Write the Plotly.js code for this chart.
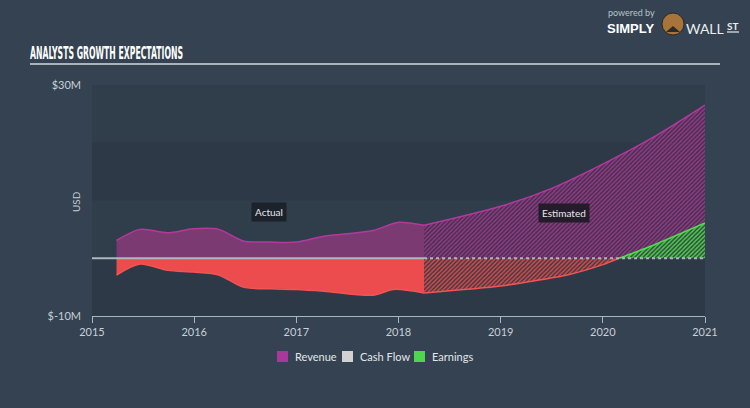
<!DOCTYPE html>
<html>
<head>
<meta charset="utf-8">
<script src="https://cdn.plot.ly/plotly-3.0.1.min.js"></script>
<style>
  html, body { margin: 0; padding: 0; background: #344251; }
  #chart { width: 750px; height: 408px; }
</style>
</head>
<body>
<div id="chart"></div>
<script>
// ---- Data (values in $M) ----
const revenueActualX = [2015.24, 2015.47, 2015.74, 2015.99, 2016.24, 2016.48, 2016.75, 2017.0, 2017.27, 2017.75, 2017.99, 2018.25];
const revenueActual  = [3.1, 5.0, 4.4, 5.1, 5.0, 3.0, 2.8, 2.8, 3.8, 4.8, 6.2, 5.7];
const revenueEstX    = [2018.25, 2019.0, 2019.5, 2020.0, 2020.5, 2021.0];
const revenueEst     = [5.7, 9.0, 12.1, 16.3, 21.0, 26.5];

const earningsActualX = [2015.24, 2015.47, 2015.74, 2015.99, 2016.24, 2016.48, 2016.75, 2017.0, 2017.27, 2017.75, 2017.95, 2018.25];
const earningsActual  = [-2.9, -1.0, -2.1, -2.4, -2.9, -5.0, -5.3, -5.4, -5.7, -6.4, -5.4, -6.0];
const earningsEstX    = [2018.25, 2019.0, 2019.65, 2020.0, 2020.16, 2020.5, 2021.0];
const earningsEst     = [-6.0, -4.8, -2.9, -1.1, 0.0, 2.3, 6.1];

const cashFlowActualX = [2015.0, 2016.0, 2017.0, 2018.0, 2018.25];
const cashFlowActual  = [0, 0, 0, 0, 0];
const cashFlowEstX    = [2018.25, 2019.0, 2020.0, 2021.0];
const cashFlowEst     = [0, 0, 0, 0];

const yearTicks  = [2015, 2016, 2017, 2018, 2019, 2020, 2021];
const yearLabels = ["2015", "2016", "2017", "2018", "2019", "2020", "2021"];
const yTickVals  = [-10, 30];
const yTickText  = ["$-10M", "$30M"];
const bandRanges = [[-10, 0], [10, 20]];

const legendNames  = ["Revenue", "Cash Flow", "Earnings"];
const legendColors = ["#a8389a", "#d2d2d2", "#4fd64f"];

// ---- Layout geometry helpers (pixel -> paper) ----
const L = 92, R = 705, T = 85, B = 316;
const W = R - L, H = B - T;
const px = x => (x - L) / W;
const py = y => (B - y) / H;

// split estimated earnings into negative and positive parts
const negX = [], negY = [], posX = [], posY = [];
earningsEstX.forEach((x, i) => {
  const v = earningsEst[i];
  if (v <= 0) { negX.push(x); negY.push(v); }
  if (v >= 0) { posX.push(x); posY.push(v); }
});

const traces = [
  { x: revenueActualX, y: revenueActual, type: 'scatter', mode: 'lines',
    line: { color: '#b3399f', width: 1.5, shape: 'spline', smoothing: 0.8 },
    fill: 'tozeroy', fillcolor: '#7b3a72', showlegend: false, hoverinfo: 'skip' },
  { x: revenueEstX, y: revenueEst, type: 'scatter', mode: 'lines',
    line: { color: '#b3399f', width: 1.5, shape: 'spline', smoothing: 0.8 },
    fill: 'tozeroy',
    fillpattern: { shape: '/', fgcolor: '#97398a', bgcolor: '#3f3149', size: 3, solidity: 0.5 },
    showlegend: false, hoverinfo: 'skip' },
  { x: earningsActualX, y: earningsActual, type: 'scatter', mode: 'lines',
    line: { color: '#f05454', width: 1.5, shape: 'spline', smoothing: 0.8 },
    fill: 'tozeroy', fillcolor: '#ec4c4d', showlegend: false, hoverinfo: 'skip' },
  { x: negX, y: negY, type: 'scatter', mode: 'lines',
    line: { color: '#f05454', width: 1.5, shape: 'spline', smoothing: 0.6 },
    fill: 'tozeroy',
    fillpattern: { shape: '/', fgcolor: '#d84a4b', bgcolor: '#3a3a45', size: 3, solidity: 0.5 },
    showlegend: false, hoverinfo: 'skip' },
  { x: posX, y: posY, type: 'scatter', mode: 'lines',
    line: { color: '#4fe04f', width: 1.5, shape: 'spline', smoothing: 0.6 },
    fill: 'tozeroy',
    fillpattern: { shape: '/', fgcolor: '#4fd04f', bgcolor: '#31473d', size: 3, solidity: 0.5 },
    showlegend: false, hoverinfo: 'skip' },
  { x: cashFlowActualX, y: cashFlowActual, type: 'scatter', mode: 'lines',
    line: { color: '#aeb7c0', width: 1.8 }, showlegend: false, hoverinfo: 'skip' },
  { x: cashFlowEstX, y: cashFlowEst, type: 'scatter', mode: 'lines',
    line: { color: '#aeb7c0', width: 1.8, dash: 'dot' }, showlegend: false, hoverinfo: 'skip' }
];

const shapes = [];
bandRanges.forEach(b => shapes.push({
  type: 'rect', xref: 'paper', yref: 'y', x0: 0, x1: 1, y0: b[0], y1: b[1],
  fillcolor: '#2d3946', line: { width: 0 }, layer: 'below'
}));
// title underline
shapes.push({ type: 'line', xref: 'paper', yref: 'paper', x0: px(30), x1: px(720), y0: py(64), y1: py(64),
  line: { color: '#a9b3bd', width: 2 } });
// logo emblem
shapes.push({ type: 'circle', xref: 'paper', yref: 'paper', x0: px(662), x1: px(684), y0: py(35), y1: py(13),
  fillcolor: '#a8743a', line: { color: '#2a2a2a', width: 1 } });
shapes.push({ type: 'path', xref: 'paper', yref: 'paper',
  path: `M ${px(666)} ${py(32)} L ${px(673)} ${py(26)} L ${px(680)} ${py(32)} Z`,
  fillcolor: '#2b2b2b', line: { width: 0 } });
shapes.push({ type: 'line', xref: 'paper', yref: 'paper', x0: px(727), x1: px(739), y0: py(32), y1: py(32),
  line: { color: '#e8ecef', width: 1.2 } });

const annotations = [
  { xref: 'x', yref: 'y', x: 2016.73, y: 8.0, text: 'Actual', showarrow: false,
    font: { family: 'Lato, sans-serif', size: 10, color: '#e6e9ec' }, bgcolor: '#1b222b', borderpad: 3 },
  { xref: 'x', yref: 'y', x: 2019.62, y: 7.8, text: 'Estimated', showarrow: false,
    font: { family: 'Lato, sans-serif', size: 10, color: '#e6e9ec' }, bgcolor: '#251c2b', borderpad: 3 },
  { xref: 'paper', yref: 'paper', x: px(68), y: py(202), yanchor: 'middle', text: 'USD', textangle: -90, showarrow: false,
    font: { family: 'Lato, sans-serif', size: 10, color: '#c5cdd5' } },
  { xref: 'paper', yref: 'paper', x: px(607), y: py(13), xanchor: 'left', yanchor: 'middle', text: 'powered by', showarrow: false,
    borderpad: 0, font: { family: 'Lato, sans-serif', size: 9, color: '#b8c2cc' } },
  { xref: 'paper', yref: 'paper', x: px(606), y: py(28), xanchor: 'left', yanchor: 'middle', text: '<b>SIMPLY</b>', showarrow: false,
    borderpad: 0, font: { family: 'Liberation Sans, sans-serif', size: 13, color: '#ffffff' } },
  { xref: 'paper', yref: 'paper', x: px(685), y: py(28), xanchor: 'left', yanchor: 'middle', text: 'WALL', showarrow: false,
    borderpad: 0, font: { family: 'Lato, sans-serif', size: 14, color: '#e8ecef' } },
  { xref: 'paper', yref: 'paper', x: px(726), y: py(26), xanchor: 'left', yanchor: 'middle', text: '<b>ST</b>', showarrow: false,
    borderpad: 0, font: { family: 'Lato, sans-serif', size: 10, color: '#e8ecef' } }
];

// custom legend
const legendPos = [[277, 293], [342, 358], [414, 430]];
legendNames.forEach((name, i) => {
  const [sx, tx] = legendPos[i];
  shapes.push({ type: 'rect', xref: 'paper', yref: 'paper', x0: px(sx), x1: px(sx + 11),
    y0: py(362), y1: py(351), fillcolor: legendColors[i], line: { width: 0 } });
  annotations.push({ xref: 'paper', yref: 'paper', x: px(tx), y: py(356.5), xanchor: 'left', yanchor: 'middle',
    text: name, showarrow: false, font: { family: 'Lato, sans-serif', size: 11, color: '#e2e6ea' } });
});

const layout = {
  width: 750, height: 408,
  margin: { l: L, r: 750 - R, t: T, b: 408 - B, pad: 0 },
  paper_bgcolor: '#344251',
  plot_bgcolor: '#303d4b',
  title: { text: 'ANALYSTS GROWTH EXPECTATIONS', xref: 'container', yref: 'container',
    x: 30 / 750, xanchor: 'left', y: 1 - 53 / 408, yanchor: 'middle',
    font: { family: 'Liberation Sans Narrow, DejaVu Sans Condensed, sans-serif', size: 17, color: '#ffffff', weight: 700 } },
  showlegend: false,
  xaxis: { range: [2015, 2021], tickvals: yearTicks, ticktext: yearLabels, showgrid: false, zeroline: false,
    showline: true, linecolor: '#aab4be', linewidth: 1, ticks: 'outside', ticklen: 6, tickcolor: '#aab4be',
    tickfont: { family: 'Lato, sans-serif', size: 11, color: '#c8d0d8' }, fixedrange: true },
  yaxis: { range: [-10, 30], tickvals: yTickVals, ticktext: yTickText, showgrid: false, zeroline: false,
    showline: false, ticks: '', ticklabelstandoff: 10,
    tickfont: { family: 'Lato, sans-serif', size: 11, color: '#c8d0d8' }, fixedrange: true },
  shapes: shapes,
  annotations: annotations
};

Plotly.newPlot('chart', traces, layout, { displayModeBar: false, staticPlot: true }).then(() => {
  const t = document.querySelector('.gtitle');
  if (t) { t.setAttribute('textLength', '153'); t.setAttribute('lengthAdjust', 'spacingAndGlyphs'); }
});
</script>
</body>
</html>
